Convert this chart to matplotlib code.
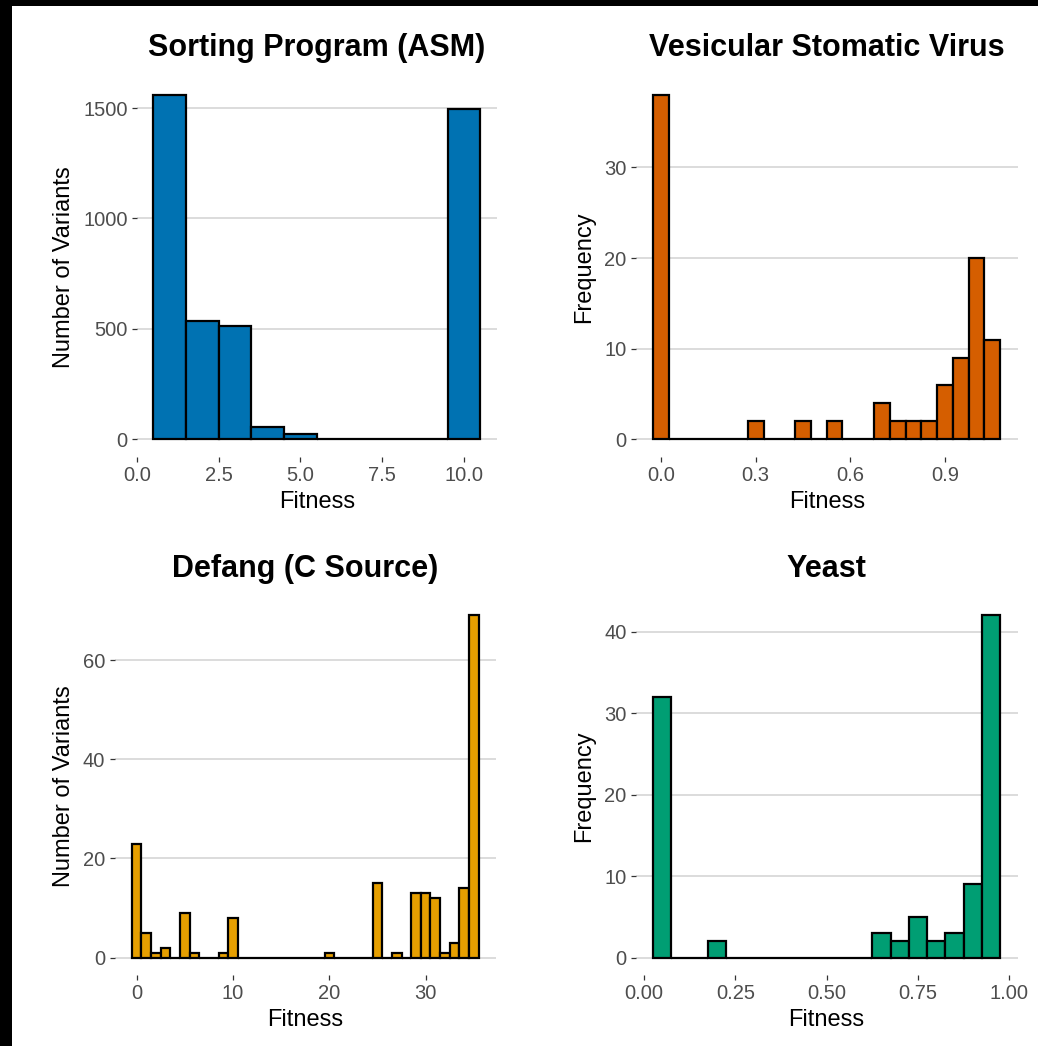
"""
Fitness distributions for four mutational scans, 2x2 histogram panels.
"""

import matplotlib
matplotlib.use('Agg')
import matplotlib.pyplot as plt
from matplotlib.patches import Rectangle

plt.rcParams['font.family'] = ['Liberation Sans', 'DejaVu Sans']

# --- data (bin centres and counts) ---
asm_bins = [1, 2, 3, 4, 5, 6, 7, 8, 9, 10]
asm_counts = [1559, 536, 513, 56, 24, 0, 0, 0, 0, 1494]

vsv_bins = [0.00, 0.05, 0.10, 0.15, 0.20, 0.25, 0.30, 0.35, 0.40, 0.45, 0.50,
            0.55, 0.60, 0.65, 0.70, 0.75, 0.80, 0.85, 0.90, 0.95, 1.00, 1.05]
vsv_counts = [38, 0, 0, 0, 0, 0, 2, 0, 0, 2, 0,
              2, 0, 0, 4, 2, 2, 2, 6, 9, 20, 11]

defang_bins = [0, 1, 2, 3, 4, 5, 6, 7, 8, 9, 10, 11, 12, 13, 14, 15, 16, 17,
               18, 19, 20, 21, 22, 23, 24, 25, 26, 27, 28, 29, 30, 31, 32, 33,
               34, 35]
defang_counts = [23, 5, 1, 2, 0, 9, 1, 0, 0, 1, 8, 0, 0, 0, 0, 0, 0, 0,
                 0, 0, 1, 0, 0, 0, 0, 15, 0, 1, 0, 13, 13, 12, 1, 3,
                 14, 69]

yeast_bins = [0.05, 0.10, 0.15, 0.20, 0.25, 0.30, 0.35, 0.40, 0.45, 0.50,
              0.55, 0.60, 0.65, 0.70, 0.75, 0.80, 0.85, 0.90, 0.95]
yeast_counts = [32, 0, 0, 2, 0, 0, 0, 0, 0, 0,
                0, 0, 3, 2, 5, 2, 3, 9, 42]

W, H = 1038, 1046
fig = plt.figure(figsize=(W / 100, H / 100), dpi=100)
fig.patch.set_facecolor('white')

# panels: (title, ylabel, bins, counts, binwidth, colour, xticks, xfmt, yticks, box px)
panels = [
    ('Sorting Program (ASM)', 'Number of Variants', asm_bins, asm_counts, 1.0,
     '#0072B2', [0, 2.5, 5, 7.5, 10], '{:.1f}', [0, 500, 1000, 1500],
     (136.7, 77.8, 496.7, 456.5)),
    ('Vesicular Stomatic Virus', 'Frequency', vsv_bins, vsv_counts, 0.05,
     '#D55E00', [0, 0.3, 0.6, 0.9], '{:.1f}', [0, 10, 20, 30],
     (635.8, 77.8, 1017.6, 456.5)),
    ('Defang (C Source)', 'Number of Variants', defang_bins, defang_counts, 1.0,
     '#E69F00', [0, 10, 20, 30], '{:.0f}', [0, 20, 40, 60],
     (114.5, 598.3, 496.0, 974.8)),
    ('Yeast', 'Frequency', yeast_bins, yeast_counts, 0.05,
     '#009E73', [0, 0.25, 0.5, 0.75, 1.0], '{:.2f}', [0, 10, 20, 30, 40],
     (635.8, 598.3, 1017.5, 974.8)),
]

for title, ylab, bins, counts, bw, color, xt, xfmt, yt, box in panels:
    l, t, r, b = box
    ax = fig.add_axes([l / W, 1 - b / H, (r - l) / W, (b - t) / H])
    ax.bar(bins, counts, width=bw, color=color, edgecolor='black',
           linewidth=1.6, zorder=3)

    lo = bins[0] - bw / 2
    hi = bins[-1] + bw / 2
    pad = 0.05 * (hi - lo)
    ax.set_xlim(lo - pad, hi + pad)
    ymax = max(counts)
    ax.set_ylim(-0.05 * ymax, 1.05 * ymax)

    ax.set_xticks(xt)
    ax.set_xticklabels([xfmt.format(v) for v in xt])
    ax.set_yticks(yt)
    ax.tick_params(axis='both', colors='#333333', labelcolor='#4D4D4D',
                   labelsize=14.5, length=3.6, width=0.9, pad=3)
    for s in ax.spines.values():
        s.set_visible(False)
    ax.yaxis.grid(True, color='#D6D6D6', linewidth=1.2)
    ax.xaxis.grid(False)
    ax.set_axisbelow(True)

    cx = (l + r) / 2
    cy = (t + b) / 2
    fig.text(cx / W, 1 - (t - 21.5) / H, title, ha='center', va='baseline',
             fontsize=22, fontweight='bold', color='black')
    fig.text(cx / W, 1 - (b + 45) / H, 'Fitness', ha='center', va='center',
             fontsize=17, color='black')
    ylx = 63.5 if l < 300 else 584
    fig.text(ylx / W, 1 - cy / H, ylab, ha='center', va='center',
             rotation=90, fontsize=17, color='black')

# dark frame along the top and left edges of the reference image
fig.patches.append(Rectangle((0, 0), 12 / W, 1, transform=fig.transFigure,
                             facecolor='black', edgecolor='none', zorder=10))
fig.patches.append(Rectangle((0, 1 - 6 / H), 1, 6 / H, transform=fig.transFigure,
                             facecolor='black', edgecolor='none', zorder=10))

fig.savefig('out.png', dpi=100)
